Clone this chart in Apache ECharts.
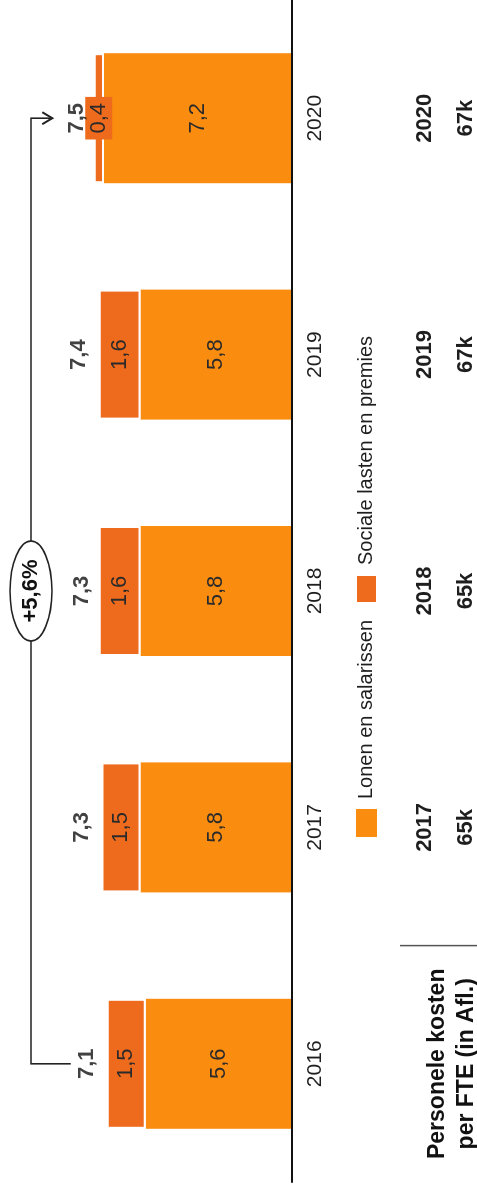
<!DOCTYPE html>
<html>
<head>
<meta charset="utf-8">
<script src="https://cdn.jsdelivr.net/npm/echarts@6/dist/echarts.min.js"></script>
<style>
  html, body { margin: 0; padding: 0; background: #fff; width: 477px; height: 1188px; overflow: hidden; }
  /* The chart is laid out landscape and turned a quarter turn to read bottom-to-top */
  #chart {
    position: absolute; left: 0; top: 0;
    width: 1188px; height: 477px;
    transform-origin: 0 0;
    transform: translateY(1188px) rotate(-90deg);
  }
</style>
</head>
<body>
<div id="chart"></div>
<script>
// Personnel costs (Afl. million) split into salaries and social charges
const categories = ['2016', '2017', '2018', '2019', '2020'];
const lonen = [5.6, 5.8, 5.8, 5.8, 7.2];
const sociale = [1.5, 1.5, 1.6, 1.6, 0.4];
const totals = [7.1, 7.3, 7.3, 7.4, 7.5];
// Cost per FTE row beneath the chart
const tableYears = ['', '2017', '2018', '2019', '2020'];
const tableValues = ['', '65k', '65k', '67k', '67k'];
const tableTitle = 'Personele kosten\nper FTE (in Afl.)';
const growthLabel = '+5,6%';
const seriesNames = ['Lonen en salarissen', 'Sociale lasten en premies'];

const FONT = '"Liberation Sans", Arial, sans-serif';
const C_LONEN = '#FA8C10';
const C_SOCIALE = '#EE6A1C';
const INK = '#1e1e1e';
const fmt = v => v.toFixed(1).replace('.', ',');

const chart = echarts.init(document.getElementById('chart'), null, { renderer: 'canvas' });

const hiddenCat = (margin, rows, weight, size) => ({
  type: 'category', data: categories, position: 'bottom', gridIndex: 0,
  axisLine: { show: false }, axisTick: { show: false }, splitLine: { show: false },
  axisLabel: {
    margin: margin, interval: 0, color: INK, fontFamily: FONT,
    fontWeight: weight, fontSize: size,
    formatter: (v, i) => rows[i]
  }
});

chart.setOption({
  animation: false,
  backgroundColor: '#fff',
  grid: { left: 6, right: -6, top: 31, bottom: 184 },
  legend: {
    data: seriesNames,
    left: 346, top: 350,
    itemWidth: 28, itemHeight: 21, itemGap: 16,
    icon: 'rect',
    textStyle: { fontFamily: FONT, fontSize: 20, color: INK, padding: [0, 0, 0, 5] }
  },
  xAxis: [
    {
      type: 'category', data: categories, z: 5,
      axisLine: { lineStyle: { color: '#111', width: 2 } },
      axisTick: { show: false },
      axisLabel: { margin: 13, color: INK, fontFamily: FONT, fontSize: 21 }
    },
    hiddenCat(122, tableYears, 'bold', 22),
    hiddenCat(163, tableValues, 'bold', 22)
  ],
  yAxis: { type: 'value', min: 0, max: 10, show: false, splitLine: { show: false } },
  series: [
    {
      name: seriesNames[0], type: 'bar', stack: 'cost', barWidth: 130,
      data: lonen,
      itemStyle: { color: C_LONEN },
      label: {
        show: true, position: 'inside', color: '#2a2a2a',
        fontFamily: FONT, fontSize: 22, formatter: p => fmt(p.value)
      }
    },
    {
      name: seriesNames[1], type: 'bar', stack: 'cost', barWidth: 130,
      data: sociale,
      itemStyle: { color: C_SOCIALE, borderColor: '#fff', borderWidth: 2 },
      label: {
        show: true, position: 'inside', color: '#2a2a2a',
        fontFamily: FONT, fontSize: 22,
        backgroundColor: C_SOCIALE, padding: [3, 6, 2, 6],
        formatter: p => fmt(p.value)
      }
    },
    {
      name: 'totaal', type: 'scatter', data: totals,
      symbolSize: 1, itemStyle: { color: 'transparent' }, silent: true,
      label: {
        show: true, position: 'top', distance: 8, color: '#111',
        fontFamily: FONT, fontWeight: 'bold', fontSize: 22,
        formatter: p => fmt(p.value)
      }
    }
  ]
});

// Growth bracket, table heading and column divider, anchored to the scales
const catX = i => chart.convertToPixel({ xAxisIndex: 0 }, categories[i]);
const valY = v => chart.convertToPixel({ yAxisIndex: 0 }, v);
const last = categories.length - 1;
const x0 = catX(0), x1 = catX(last);
const lineY = valY(10);
const dropY = valY(totals[0]) - 36;
const tipY = valY(totals[last]) - 44;
const midX = (x0 + x1) / 2;
const band = catX(1) - catX(0);

chart.setOption({
  graphic: [
    {
      type: 'polyline', z: 10,
      shape: { points: [[x0, dropY], [x0, lineY], [x1, lineY], [x1, tipY]] },
      style: { stroke: '#222', lineWidth: 1.6, fill: null }
    },
    {
      type: 'polyline', z: 10,
      shape: { points: [[x1 - 6, tipY - 10], [x1, tipY], [x1 + 6, tipY - 10]] },
      style: { stroke: '#222', lineWidth: 2, fill: null }
    },
    {
      type: 'ellipse', z: 11,
      shape: { cx: midX, cy: lineY, rx: 50, ry: 21 },
      style: { fill: '#fff', stroke: '#222', lineWidth: 1.6 }
    },
    {
      type: 'text', z: 12, x: midX, y: lineY,
      style: {
        text: growthLabel, fill: '#111', font: 'bold 22px ' + FONT,
        textAlign: 'center', textVerticalAlign: 'middle'
      }
    },
    {
      type: 'text', z: 12, x: x0, y: 423,
      style: {
        text: tableTitle, fill: '#111', font: 'bold 23px ' + FONT,
        textAlign: 'center', textVerticalAlign: 'top', lineHeight: 29
      }
    },
    {
      type: 'line', z: 12,
      shape: { x1: x0 + band / 2, y1: 400, x2: x0 + band / 2, y2: 477 },
      style: { stroke: '#555', lineWidth: 1.5 }
    }
  ]
});
</script>
</body>
</html>
